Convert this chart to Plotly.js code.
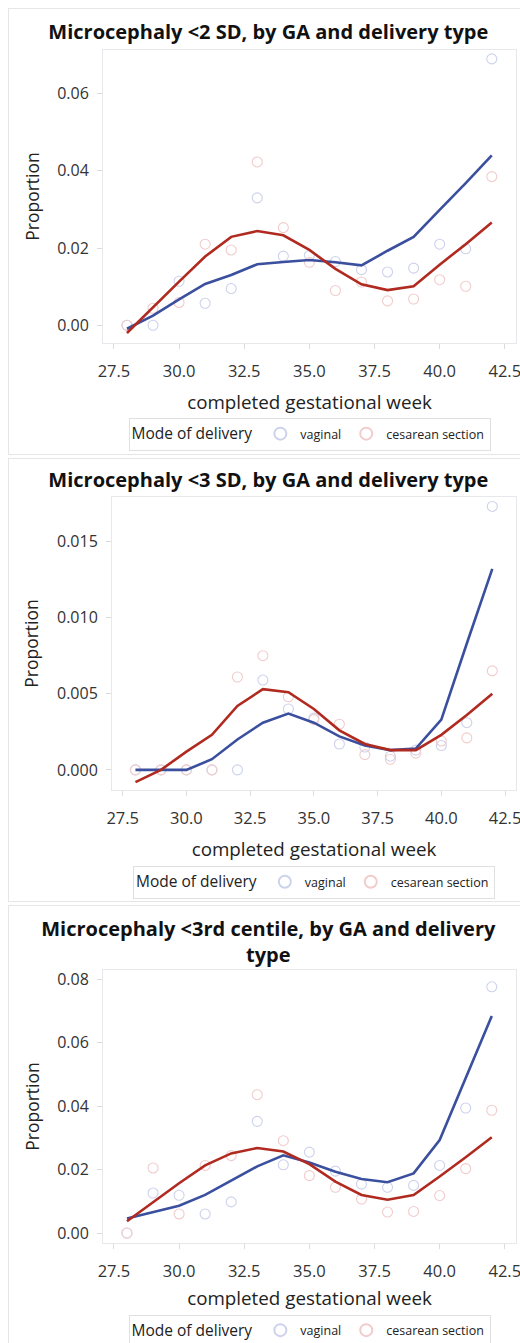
<!DOCTYPE html>
<html>
<head>
<meta charset="utf-8">
<script src="https://cdn.plot.ly/plotly-3.0.1.min.js"></script>
<style>
  html, body { margin: 0; padding: 0; background: #ffffff; }
  #wrap { position: relative; width: 520px; height: 1343px; overflow: hidden; background: #fff; }
  .frame { position: absolute; border: 1px solid #e6e6e6; box-sizing: border-box; }
  .plot { position: absolute; left: 0; width: 520px; }
</style>
</head>
<body>
<div id="wrap">
  <div class="frame" style="left:8px; top:8px; width:540px; height:447px;"></div>
  <div class="frame" style="left:8px; top:458px; width:540px; height:444px;"></div>
  <div class="frame" style="left:8px; top:905px; width:540px; height:460px;"></div>
  <div id="p1" class="plot" style="top:0px; height:455px;"></div>
  <div id="p2" class="plot" style="top:455px; height:448px;"></div>
  <div id="p3" class="plot" style="top:903px; height:470px;"></div>
</div>
<script>
// ---- data ----
const weeks = [28, 29, 30, 31, 32, 33, 34, 35, 36, 37, 38, 39, 40, 41, 42];
const xTickVals = [27.5, 30.0, 32.5, 35.0, 37.5, 40.0, 42.5];

// Microcephaly <2 SD
const sd2VagObs = [0, 0, 0.0114, 0.0057, 0.0095, 0.0330, 0.0179, 0.0181, 0.0165, 0.0144, 0.0138, 0.0148, 0.0210, 0.0198, 0.0690];
const sd2CesObs = [0, 0.0044, 0.0059, 0.0210, 0.0195, 0.0423, 0.0253, 0.0163, 0.0090, 0.0112, 0.0063, 0.0068, 0.0118, 0.0101, 0.0385];
const sd2VagFit = [-0.0009, 0.0025, 0.0067, 0.0107, 0.0130, 0.0158, 0.0164, 0.0169, 0.0163, 0.0155, 0.0193, 0.0229, 0.0299, 0.0368, 0.0440];
const sd2CesFit = [-0.0020, 0.0047, 0.0113, 0.0178, 0.0229, 0.0244, 0.0233, 0.0195, 0.0146, 0.0106, 0.0091, 0.0101, 0.0157, 0.0210, 0.0266];

// Microcephaly <3 SD
const sd3VagObs = [0, 0, 0, 0, 0, 0.0059, 0.0040, 0.0034, 0.0017, 0.0015, 0.0009, 0.0013, 0.0016, 0.0031, 0.0173];
const sd3CesObs = [0, 0, 0, 0, 0.0061, 0.0075, 0.0048, 0.0033, 0.0030, 0.0010, 0.0007, 0.0011, 0.0019, 0.0021, 0.0065];
const sd3VagFit = [0, 0, 0, 0.0007, 0.0020, 0.0031, 0.0037, 0.0031, 0.0022, 0.0016, 0.0013, 0.0014, 0.0033, 0.0083, 0.0132];
const sd3CesFit = [-0.0008, 0.0000, 0.0012, 0.0023, 0.0042, 0.0053, 0.0051, 0.0040, 0.0026, 0.0017, 0.0013, 0.0013, 0.0023, 0.0036, 0.0050];

// Microcephaly <3rd centile
const c3VagObs = [0, 0.0126, 0.0119, 0.0060, 0.0098, 0.0352, 0.0215, 0.0255, 0.0195, 0.0154, 0.0144, 0.0150, 0.0213, 0.0394, 0.0776];
const c3CesObs = [0, 0.0205, 0.0060, 0.0213, 0.0244, 0.0436, 0.0291, 0.0181, 0.0144, 0.0107, 0.0066, 0.0068, 0.0118, 0.0203, 0.0387];
const c3VagFit = [0.0046, 0.0067, 0.0086, 0.0120, 0.0166, 0.0210, 0.0245, 0.0222, 0.0193, 0.0170, 0.0160, 0.0188, 0.0293, 0.0488, 0.0684];
const c3CesFit = [0.0037, 0.0098, 0.0157, 0.0213, 0.0251, 0.0268, 0.0257, 0.0217, 0.0162, 0.0120, 0.0105, 0.0120, 0.0178, 0.0239, 0.0302];

const seriesNames = ['vaginal', 'cesarean section'];
const legendTitle = 'Mode of delivery';
const xTitle = 'completed gestational week';
const yTitle = 'Proportion';

// ---- style ----
const FONT = '"Open Sans", "Noto Sans", sans-serif';
const BLUE = '#3b4f9f';
const RED = '#b02a20';
const BLUE_PT = '#cdd2ec';
const RED_PT = '#f1cccc';

function panel(id, cfg) {
  const traces = [
    { x: weeks, y: cfg.vagObs, name: seriesNames[0], type: 'scatter', mode: 'markers',
      marker: { symbol: 'circle-open', size: 10, color: BLUE_PT, line: { width: 1.1, color: BLUE_PT } } },
    { x: weeks, y: cfg.cesObs, name: seriesNames[1], type: 'scatter', mode: 'markers',
      marker: { symbol: 'circle-open', size: 10, color: RED_PT, line: { width: 1.1, color: RED_PT } } },
    { x: weeks, y: cfg.vagFit, type: 'scatter', mode: 'lines', showlegend: false,
      line: { color: BLUE, width: 2.6 } },
    { x: weeks, y: cfg.cesFit, type: 'scatter', mode: 'lines', showlegend: false,
      line: { color: RED, width: 2.6 } }
  ];
  const H = cfg.height;
  const layout = {
    width: 520, height: H,
    margin: { l: cfg.l, r: 4, t: cfg.t, b: cfg.b, pad: 0 },
    paper_bgcolor: 'rgba(0,0,0,0)', plot_bgcolor: 'rgba(0,0,0,0)',
    font: { family: FONT, color: '#333333' },
    title: { text: cfg.title, xref: 'container', x: 0.516, xanchor: 'center',
             yref: 'container', y: 1 - cfg.titleY / H, yanchor: 'middle',
             font: { family: FONT, size: 20, color: '#111111', weight: 'bold' } },
    xaxis: {
      range: [27.08, 42.93], tickvals: xTickVals, tickformat: '.1f',
      showgrid: false, zeroline: false, showline: true, mirror: true, linecolor: '#e8e8ec', linewidth: 1,
      ticks: 'outside', ticklen: 5, tickcolor: '#dcdcdc', ticklabelstandoff: 8,
      ticklabeloverflow: 'allow',
      tickfont: { family: FONT, size: 16.5, color: '#333333' },
      title: { text: xTitle, standoff: cfg.xStand, font: { family: FONT, size: 18.8, color: '#222222' } }
    },
    yaxis: {
      range: cfg.yRange, dtick: cfg.dtick, tick0: 0, tickformat: cfg.fmt,
      showgrid: false, zeroline: false, showline: true, mirror: true, linecolor: '#e8e8ec', linewidth: 1,
      ticks: 'outside', ticklen: 5, tickcolor: '#dcdcdc', ticklabelstandoff: 5,
      tickfont: { family: FONT, size: 16, color: '#333333' },
      title: { text: yTitle, standoff: 13, font: { family: FONT, size: 17.5, color: '#222222' } }
    },
    showlegend: true,
    legend: {
      orientation: 'h', x: 0.5, xanchor: 'center', y: cfg.legY, yanchor: 'top',
      bordercolor: '#e0e0e0', borderwidth: 1, bgcolor: 'rgba(0,0,0,0)',
      font: { family: FONT, size: 12.5, color: '#222222' },
      title: { text: legendTitle, side: 'left', font: { family: FONT, size: 15.5, color: '#222222' } },
      itemsizing: 'constant', tracegroupgap: 0, itemwidth: 30
    }
  };
  Plotly.newPlot(id, traces, layout, { displayModeBar: false, staticPlot: true });
}

panel('p1', {
  vagObs: sd2VagObs, cesObs: sd2CesObs, vagFit: sd2VagFit, cesFit: sd2CesFit,
  title: 'Microcephaly <2 SD, by GA and delivery type', titleY: 32, xStand: 15,
  height: 455, l: 103, t: 50, b: 108, yRange: [-0.0046, 0.0713], dtick: 0.02, fmt: '.2f', legY: -0.256
});
panel('p2', {
  vagObs: sd3VagObs, cesObs: sd3CesObs, vagFit: sd3VagFit, cesFit: sd3CesFit,
  title: 'Microcephaly <3 SD, by GA and delivery type', titleY: 25, xStand: 15,
  height: 448, l: 112, t: 42, b: 110, yRange: [-0.00132, 0.01792], dtick: 0.005, fmt: '.3f', legY: -0.26
});
panel('p3', {
  vagObs: c3VagObs, cesObs: c3CesObs, vagFit: c3VagFit, cesFit: c3CesFit,
  title: 'Microcephaly <3rd centile, by GA and delivery<br>type', titleY: 33, xStand: 11,
  height: 470, l: 103, t: 67, b: 130, yRange: [-0.00315, 0.0829], dtick: 0.02, fmt: '.2f', legY: -0.262
});
</script>
</body>
</html>
